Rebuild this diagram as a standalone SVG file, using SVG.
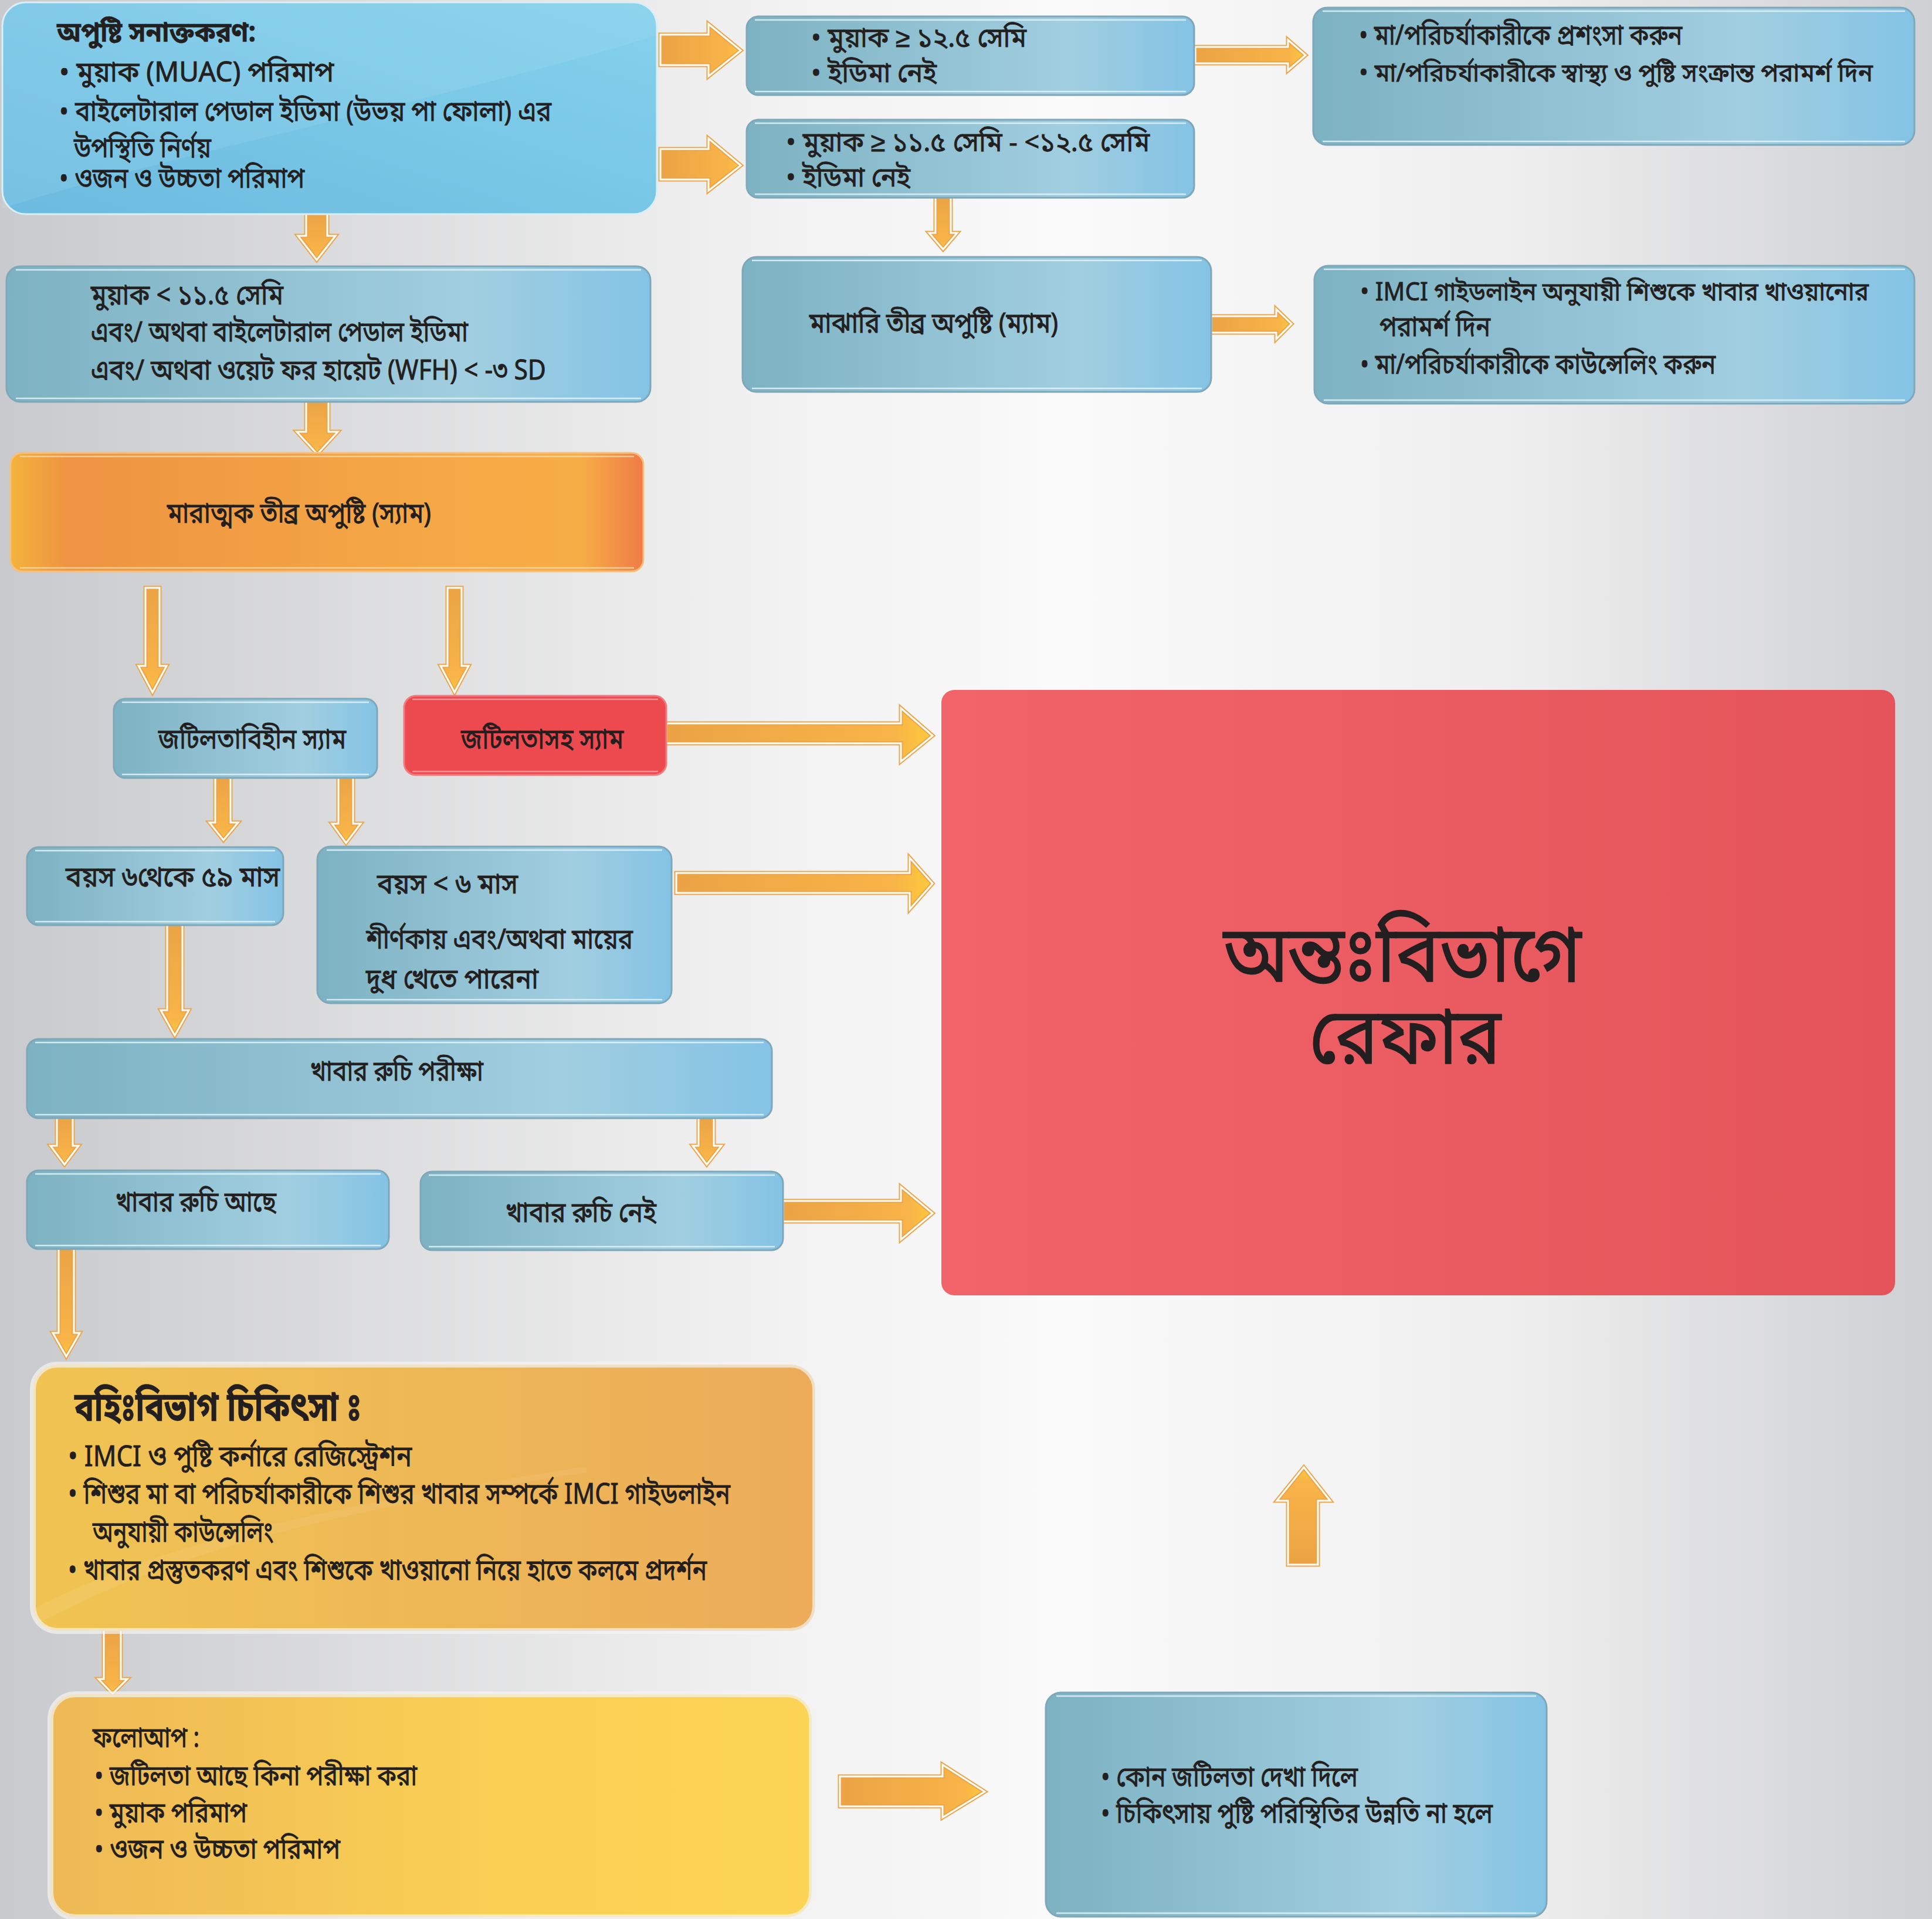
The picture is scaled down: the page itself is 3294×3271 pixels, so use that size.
<svg xmlns="http://www.w3.org/2000/svg" width="3294" height="3271" viewBox="0 0 3294 3271">
<defs>
<style>
.t{font-family:'Noto Sans Bengali','Noto Serif Bengali','Noto Sans',sans-serif;fill:#231f20;stroke:#231f20;stroke-width:0.9px;font-size:48px}
.bd{font-weight:bold;stroke-width:0.5px}
.blue{fill:url(#gBlue);stroke:#7ea8ba;stroke-width:3}
.inn{fill:none;stroke:#e4f3f8;stroke-width:2.5;opacity:.85}
.arr{fill:url(#gArrH);stroke:#eca548;stroke-width:7;stroke-linejoin:miter}
.arrV{fill:url(#gArrV);stroke:#eca548;stroke-width:7;stroke-linejoin:miter}
.arrU{fill:url(#gArrU);stroke:#eca548;stroke-width:7;stroke-linejoin:miter}
.aw{fill:none;stroke:#fff;stroke-width:3;stroke-linejoin:miter}
</style>
<linearGradient id="gBg" x1="0" y1="0" x2="1" y2="0">
<stop offset="0" stop-color="#c9cacd"/><stop offset="0.38" stop-color="#f0f0f0"/><stop offset="0.55" stop-color="#fafafa"/><stop offset="0.78" stop-color="#efefef"/><stop offset="1" stop-color="#cfd0d3"/>
</linearGradient>
<linearGradient id="gBlue" x1="0" y1="0" x2="1" y2="0">
<stop offset="0" stop-color="#7db2c2"/><stop offset="0.72" stop-color="#a1cee0"/><stop offset="1" stop-color="#84c3e5"/>
</linearGradient>
<linearGradient id="gA" x1="0" y1="1" x2="1" y2="0">
<stop offset="0" stop-color="#6cbbe0"/><stop offset="1" stop-color="#84d2ec"/>
</linearGradient>
<linearGradient id="gE" x1="0" y1="0" x2="1" y2="0">
<stop offset="0" stop-color="#f3b33d"/><stop offset="0.09" stop-color="#ee9342"/><stop offset="0.6" stop-color="#f4a645"/><stop offset="0.9" stop-color="#f7ad46"/><stop offset="1" stop-color="#ef7c48"/>
</linearGradient>
<linearGradient id="gG" x1="0" y1="0" x2="1" y2="0">
<stop offset="0" stop-color="#f16469"/><stop offset="1" stop-color="#e4545a"/>
</linearGradient>
<linearGradient id="gK" x1="0" y1="0" x2="1" y2="0">
<stop offset="0" stop-color="#f0c452"/><stop offset="1" stop-color="#ecac5a"/>
</linearGradient>
<linearGradient id="gL" x1="0" y1="0" x2="1" y2="0">
<stop offset="0" stop-color="#eeb956"/><stop offset="0.6" stop-color="#fad054"/><stop offset="1" stop-color="#fcd454"/>
</linearGradient>
<linearGradient id="gArrH" x1="0" y1="0" x2="1" y2="0">
<stop offset="0" stop-color="#eba345"/><stop offset="0.85" stop-color="#f8b448"/><stop offset="1" stop-color="#fdca3c"/>
</linearGradient>
<linearGradient id="gArrV" x1="0" y1="0" x2="0" y2="1">
<stop offset="0" stop-color="#eba345"/><stop offset="0.85" stop-color="#f8b448"/><stop offset="1" stop-color="#fdca3c"/>
</linearGradient>
<linearGradient id="gArrU" x1="0" y1="1" x2="0" y2="0">
<stop offset="0" stop-color="#eba345"/><stop offset="0.85" stop-color="#f8b448"/><stop offset="1" stop-color="#fdca3c"/>
</linearGradient>
</defs>
<rect x="0" y="0" width="3294" height="3271" fill="url(#gBg)"/>

<g id="connectors">
<polygon class="arr" points="1126,59 1208,59 1208,41 1263,86 1208,130 1208,111 1126,111"/><polygon class="aw" points="1126,59 1208,59 1208,41 1263,86 1208,130 1208,111 1126,111"/>
<polygon class="arr" points="1126,254 1208,254 1208,236 1263,282 1208,325 1208,306 1126,306"/><polygon class="aw" points="1126,254 1208,254 1208,236 1263,282 1208,325 1208,306 1126,306"/>
<polygon class="arr" points="2038,80 2196,80 2196,68 2226,94 2196,120 2196,108 2038,108"/><polygon class="aw" points="2038,80 2196,80 2196,68 2226,94 2196,120 2196,108 2038,108"/>
<polygon class="arr" points="2065,539 2176,539 2176,527 2202,552 2176,578 2176,567 2065,567"/><polygon class="aw" points="2065,539 2176,539 2176,527 2202,552 2176,578 2176,567 2065,567"/>
<polygon class="arr" points="1136,1233 1536,1233 1536,1207 1590,1254 1536,1298 1536,1267 1136,1267"/><polygon class="aw" points="1136,1233 1536,1233 1536,1207 1590,1254 1536,1298 1536,1267 1136,1267"/>
<polygon class="arr" points="1153,1488 1551,1488 1551,1462 1590,1506 1551,1550 1551,1522 1153,1522"/><polygon class="aw" points="1153,1488 1551,1488 1551,1462 1590,1506 1551,1550 1551,1522 1153,1522"/>
<polygon class="arr" points="1335,2047 1536,2047 1536,2023 1590,2068 1536,2113 1536,2082 1335,2082"/><polygon class="aw" points="1335,2047 1536,2047 1536,2023 1590,2068 1536,2113 1536,2082 1335,2082"/>
<polygon class="arr" points="1432,3028 1607,3028 1607,3008 1679,3054 1607,3098 1607,3079 1432,3079"/><polygon class="aw" points="1432,3028 1607,3028 1607,3008 1679,3054 1607,3098 1607,3079 1432,3079"/>
<polygon class="arrV" points="522,360 558,360 558,402 572,402 540,443 508,402 522,402"/><polygon class="aw" points="522,360 558,360 558,402 572,402 540,443 508,402 522,402"/>
<polygon class="arrV" points="522,683 560,683 560,736 576,736 541,774 506,736 522,736"/><polygon class="aw" points="522,683 560,683 560,736 576,736 541,774 506,736 522,736"/>
<polygon class="arrV" points="248,1002 272,1002 272,1135 284,1135 260,1180 236,1135 248,1135"/><polygon class="aw" points="248,1002 272,1002 272,1135 284,1135 260,1180 236,1135 248,1135"/>
<polygon class="arrV" points="763,1002 787,1002 787,1135 799,1135 775,1180 751,1135 763,1135"/><polygon class="aw" points="763,1002 787,1002 787,1135 799,1135 775,1180 751,1135 763,1135"/>
<polygon class="arrV" points="367,1324 393,1324 393,1402 406,1402 381,1432 357,1402 367,1402"/><polygon class="aw" points="367,1324 393,1324 393,1402 406,1402 381,1432 357,1402 367,1402"/>
<polygon class="arrV" points="577,1320 602,1320 602,1404 615,1404 590,1437 566,1404 577,1404"/><polygon class="aw" points="577,1320 602,1320 602,1404 615,1404 590,1437 566,1404 577,1404"/>
<polygon class="arrV" points="285,1575 311,1575 311,1722 322,1722 298,1765 274,1722 285,1722"/><polygon class="aw" points="285,1575 311,1575 311,1722 322,1722 298,1765 274,1722 285,1722"/>
<polygon class="arrV" points="97,1904 124,1904 124,1953 134,1953 110,1985 86,1953 97,1953"/><polygon class="aw" points="97,1904 124,1904 124,1953 134,1953 110,1985 86,1953 97,1953"/>
<polygon class="arrV" points="1191,1904 1217,1904 1217,1953 1230,1953 1205,1985 1181,1953 1191,1953"/><polygon class="aw" points="1191,1904 1217,1904 1217,1953 1230,1953 1205,1985 1181,1953 1191,1953"/>
<polygon class="arrV" points="100,2127 126,2127 126,2272 136,2272 113,2312 90,2272 100,2272"/><polygon class="aw" points="100,2127 126,2127 126,2272 136,2272 113,2312 90,2272 100,2272"/>
<polygon class="arrV" points="177,2778 206,2778 206,2862 217,2862 192,2887 168,2862 177,2862"/><polygon class="aw" points="177,2778 206,2778 206,2862 217,2862 192,2887 168,2862 177,2862"/>
<polygon class="arrV" points="1595,335 1621,335 1621,397 1632,397 1608,425 1584,397 1595,397"/><polygon class="aw" points="1595,335 1621,335 1621,397 1632,397 1608,425 1584,397 1595,397"/>
<polygon class="arrU" points="2196,2667 2247,2667 2247,2558 2268,2558 2223,2501 2177,2558 2196,2558"/><polygon class="aw" points="2196,2667 2247,2667 2247,2558 2268,2558 2223,2501 2177,2558 2196,2558"/>
</g>

<g id="node-identify">
<rect x="4" y="4" width="1116" height="361" rx="40" fill="url(#gA)" stroke="#d9eef6" stroke-width="3"/>
<path d="M44,4 H1080 A40,40 0 0 1 1120,44 V60 C800,160 300,260 4,355 V44 A40,40 0 0 1 44,4 Z" fill="#ffffff" opacity="0.08"/>
<text class="t bd" x="97" y="71" textLength="339" lengthAdjust="spacingAndGlyphs">অপুষ্টি সনাক্তকরণ:</text>
<text class="t" x="101" y="139" textLength="468" lengthAdjust="spacingAndGlyphs">• মুয়াক (MUAC) পরিমাপ</text>
<text class="t" x="101" y="206" textLength="839" lengthAdjust="spacingAndGlyphs">• বাইলেটারাল পেডাল ইডিমা  (উভয় পা ফোলা) এর</text>
<text class="t" x="126" y="268" textLength="234" lengthAdjust="spacingAndGlyphs">উপস্থিতি নির্ণয়</text>
<text class="t" x="101" y="320" textLength="418" lengthAdjust="spacingAndGlyphs">• ওজন ও উচ্চতা পরিমাপ</text>
</g>

<g id="node-muac-normal">
<rect class="blue" x="1273" y="28" width="763" height="134" rx="20"/>
<path class="inn" d="M1287,34 H2022 M1287,156 H2022"/>
<text class="t" x="1383" y="80" style="font-size:46px" textLength="367" lengthAdjust="spacingAndGlyphs">• মুয়াক ≥ ১২.৫ সেমি</text>
<text class="t" x="1383" y="140" style="font-size:46px" textLength="214" lengthAdjust="spacingAndGlyphs">• ইডিমা নেই</text>
</g>

<g id="node-muac-moderate">
<rect class="blue" x="1273" y="204" width="763" height="133" rx="20"/>
<path class="inn" d="M1287,210 H2022 M1287,331 H2022"/>
<text class="t" x="1340" y="258" style="font-size:46px" textLength="620" lengthAdjust="spacingAndGlyphs">• মুয়াক ≥ ১১.৫ সেমি - &lt;১২.৫ সেমি</text>
<text class="t" x="1340" y="318" style="font-size:46px" textLength="212" lengthAdjust="spacingAndGlyphs">• ইডিমা নেই</text>
</g>

<g id="node-praise">
<rect class="blue" x="2239" y="13" width="1025" height="234" rx="24"/>
<path class="inn" d="M2255,19 H3248 M2255,241 H3248"/>
<text class="t" x="2317" y="76" textLength="551" lengthAdjust="spacingAndGlyphs">• মা/পরিচর্যাকারীকে প্রশংসা করুন</text>
<text class="t" x="2317" y="139" style="font-size:43px" textLength="876" lengthAdjust="spacingAndGlyphs">• মা/পরিচর্যাকারীকে স্বাস্থ্য ও পুষ্টি সংক্রান্ত পরামর্শ দিন</text>
</g>

<g id="node-mam">
<rect class="blue" x="1266" y="438" width="799" height="230" rx="24"/>
<path class="inn" d="M1282,444 H2049 M1282,662 H2049"/>
<text class="t" x="1380" y="567" textLength="424" lengthAdjust="spacingAndGlyphs">মাঝারি তীব্র অপুষ্টি (ম্যাম)</text>
</g>

<g id="node-mam-advice">
<rect class="blue" x="2241" y="453" width="1023" height="235" rx="24"/>
<path class="inn" d="M2257,459 H3248 M2257,682 H3248"/>
<text class="t" x="2319" y="512" style="font-size:43px" textLength="867" lengthAdjust="spacingAndGlyphs">• IMCI গাইডলাইন অনুযায়ী শিশুকে খাবার খাওয়ানোর</text>
<text class="t" x="2352" y="573" textLength="189" lengthAdjust="spacingAndGlyphs">পরামর্শ দিন</text>
<text class="t" x="2319" y="637" textLength="606" lengthAdjust="spacingAndGlyphs">• মা/পরিচর্যাকারীকে কাউন্সেলিং করুন</text>
</g>

<g id="node-criteria">
<rect class="blue" x="11" y="454" width="1098" height="231" rx="24"/>
<path class="inn" d="M27,460 H1093 M27,679 H1093"/>
<text class="t" x="155" y="519" textLength="328" lengthAdjust="spacingAndGlyphs">মুয়াক &lt; ১১.৫ সেমি</text>
<text class="t" x="155" y="582" textLength="643" lengthAdjust="spacingAndGlyphs">এবং/ অথবা বাইলেটারাল পেডাল ইডিমা</text>
<text class="t" x="155" y="647" textLength="776" lengthAdjust="spacingAndGlyphs">এবং/ অথবা ওয়েট ফর হায়েট (WFH) &lt; -৩ SD</text>
</g>

<g id="node-sam">
<rect x="18" y="772" width="1079" height="202" rx="20" fill="url(#gE)" stroke="#f6c07a" stroke-width="3"/>
<path d="M34,778 H1081 M34,968 H1081" fill="none" stroke="#fbd9a8" stroke-width="2.5" opacity="0.8"/>
<text class="t" x="285" y="891" textLength="450" lengthAdjust="spacingAndGlyphs">মারাত্মক তীব্র অপুষ্টি (স্যাম)</text>
</g>

<g id="node-sam-uncomplicated">
<rect class="blue" x="194" y="1191" width="449" height="135" rx="20"/>
<path class="inn" d="M208,1197 H629 M208,1320 H629"/>
<text class="t" x="270" y="1276" textLength="320" lengthAdjust="spacingAndGlyphs">জটিলতাবিহীন স্যাম</text>
</g>

<g id="node-sam-complicated">
<rect x="689" y="1186" width="447" height="135" rx="20" fill="#ed4a50" stroke="#f07a7e" stroke-width="3"/>
<path d="M703,1192 H1122 M703,1315 H1122" fill="none" stroke="#f6a3a6" stroke-width="2.5" opacity="0.8"/>
<text class="t" x="786" y="1276" textLength="277" lengthAdjust="spacingAndGlyphs">জটিলতাসহ স্যাম</text>
</g>

<g id="node-refer">
<rect x="1605" y="1176" width="1626" height="1032" rx="22" fill="url(#gG)"/>
<text class="t" x="2086" y="1673" style="font-size:135px;stroke-width:1.5px" textLength="610" lengthAdjust="spacingAndGlyphs">অন্তঃবিভাগে</text>
<text class="t" x="2232" y="1813" style="font-size:135px;stroke-width:1.5px" textLength="327" lengthAdjust="spacingAndGlyphs">রেফার</text>
</g>

<g id="node-age-6-59">
<rect class="blue" x="46" y="1444" width="437" height="133" rx="20"/>
<path class="inn" d="M60,1450 H469 M60,1571 H469"/>
<text class="t" x="112" y="1511" textLength="365" lengthAdjust="spacingAndGlyphs">বয়স ৬থেকে ৫৯ মাস</text>
</g>

<g id="node-age-lt6">
<rect class="blue" x="541" y="1443" width="604" height="267" rx="22"/>
<path class="inn" d="M557,1449 H1129 M557,1704 H1129"/>
<text class="t" x="643" y="1523" textLength="240" lengthAdjust="spacingAndGlyphs">বয়স &lt; ৬ মাস</text>
<text class="t" x="624" y="1617" textLength="455" lengthAdjust="spacingAndGlyphs">শীর্ণকায় এবং/অথবা মায়ের</text>
<text class="t" x="624" y="1685" textLength="294" lengthAdjust="spacingAndGlyphs">দুধ খেতে পারেনা</text>
</g>

<g id="node-appetite-test">
<rect class="blue" x="46" y="1771" width="1270" height="135" rx="20"/>
<path class="inn" d="M60,1777 H1302 M60,1900 H1302"/>
<text class="t" x="529" y="1842" textLength="295" lengthAdjust="spacingAndGlyphs">খাবার রুচি পরীক্ষা</text>
</g>

<g id="node-appetite-yes">
<rect class="blue" x="46" y="1995" width="617" height="134" rx="20"/>
<path class="inn" d="M60,2001 H649 M60,2123 H649"/>
<text class="t" x="197" y="2065" textLength="274" lengthAdjust="spacingAndGlyphs">খাবার রুচি আছে</text>
</g>

<g id="node-appetite-no">
<rect class="blue" x="717" y="1997" width="618" height="134" rx="20"/>
<path class="inn" d="M731,2003 H1321 M731,2125 H1321"/>
<text class="t" x="862" y="2083" textLength="257" lengthAdjust="spacingAndGlyphs">খাবার রুচি নেই</text>
</g>

<g id="node-outpatient">
<rect x="56" y="2326" width="1334" height="454" rx="42" fill="url(#gK)" stroke="#f3f3f3" stroke-width="10" stroke-opacity="0.7"/>
<path d="M60,2740 C300,2620 600,2560 1000,2500 L1000,2510 C600,2570 300,2640 60,2770 Z" fill="#ffffff" opacity="0.07"/>
<text class="t bd" x="127" y="2422" style="font-size:70px" textLength="489" lengthAdjust="spacingAndGlyphs">বহিঃবিভাগ চিকিৎসা&#160;ঃ</text>
<text class="t" x="116" y="2499" style="font-size:49px" textLength="586" lengthAdjust="spacingAndGlyphs">• IMCI ও পুষ্টি কর্নারে রেজিস্ট্রেশন</text>
<text class="t" x="116" y="2563" style="font-size:49px" textLength="1129" lengthAdjust="spacingAndGlyphs">• শিশুর মা বা পরিচর্যাকারীকে শিশুর খাবার সম্পর্কে IMCI গাইডলাইন</text>
<text class="t" x="158" y="2628" style="font-size:49px" textLength="308" lengthAdjust="spacingAndGlyphs">অনুযায়ী কাউন্সেলিং</text>
<text class="t" x="116" y="2693" style="font-size:49px" textLength="1089" lengthAdjust="spacingAndGlyphs">• খাবার প্রস্তুতকরণ এবং শিশুকে খাওয়ানো নিয়ে হাতে কলমে প্রদর্শন</text>
</g>

<g id="node-followup">
<rect x="86" y="2888" width="1298" height="380" rx="42" fill="url(#gL)" stroke="#f3f3f3" stroke-width="10" stroke-opacity="0.7"/>
<text class="t" x="158" y="2978" textLength="182" lengthAdjust="spacingAndGlyphs">ফলোআপ :</text>
<text class="t" x="161" y="3043" textLength="550" lengthAdjust="spacingAndGlyphs">• জটিলতা আছে কিনা পরীক্ষা করা</text>
<text class="t" x="161" y="3106" textLength="260" lengthAdjust="spacingAndGlyphs">• মুয়াক পরিমাপ</text>
<text class="t" x="161" y="3168" textLength="419" lengthAdjust="spacingAndGlyphs">• ওজন ও উচ্চতা পরিমাপ</text>
</g>

<g id="node-referral-conditions">
<rect class="blue" x="1783" y="2885" width="854" height="382" rx="26"/>
<path class="inn" d="M1801,2891 H2619 M1801,3261 H2619"/>
<text class="t" x="1877" y="3045" textLength="438" lengthAdjust="spacingAndGlyphs">• কোন জটিলতা দেখা দিলে</text>
<text class="t" x="1877" y="3107" textLength="668" lengthAdjust="spacingAndGlyphs">• চিকিৎসায় পুষ্টি পরিস্থিতির উন্নতি না হলে</text>
</g>
</svg>
